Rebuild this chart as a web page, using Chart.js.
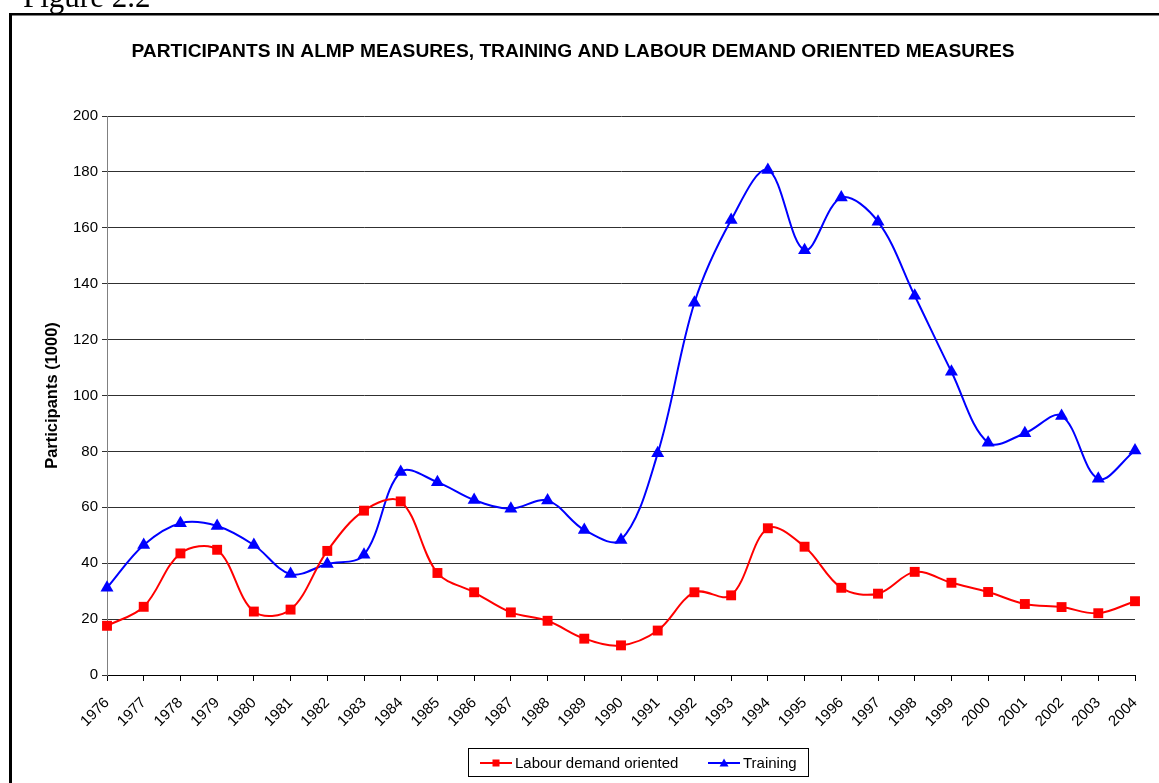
<!DOCTYPE html>
<html>
<head>
<meta charset="utf-8">
<script src="https://cdn.jsdelivr.net/npm/chart.js@4"></script>
<style>
  html, body { margin: 0; padding: 0; background: #fff; }
  #wrap { position: relative; width: 1159px; height: 783px; }
</style>
</head>
<body>
<div id="wrap"><canvas id="canvas" width="1159" height="783"></canvas></div>
<script>
// ---- data ----
var years = ['1976','1977','1978','1979','1980','1981','1982','1983','1984','1985',
  '1986','1987','1988','1989','1990','1991','1992','1993','1994','1995',
  '1996','1997','1998','1999','2000','2001','2002','2003','2004'];
var labourDemand = [17.6, 24.4, 43.5, 44.8, 22.7, 23.4, 44.4, 58.8, 62.1, 36.5,
  29.6, 22.4, 19.4, 13.0, 10.6, 15.9, 29.6, 28.5, 52.5, 45.9,
  31.2, 29.1, 36.9, 33.0, 29.7, 25.4, 24.3, 22.1, 26.4];
var training = [31.2, 46.5, 54.3, 53.3, 46.5, 36.1, 39.7, 43.0, 72.6, 69.0,
  62.6, 59.5, 62.4, 51.9, 48.3, 79.3, 133.2, 162.8, 180.7, 152.0,
  170.8, 162.2, 135.7, 108.5, 83.1, 86.5, 92.7, 70.2, 80.3];
var yTicks = [0, 20, 40, 60, 80, 100, 120, 140, 160, 180, 200];

var chartTitle = 'PARTICIPANTS IN ALMP MEASURES, TRAINING AND LABOUR DEMAND ORIENTED MEASURES';
var yTitle = 'Participants (1000)';
var seriesNames = ['Labour demand oriented', 'Training'];

var FONT = 'Arial, "Liberation Sans", sans-serif';

// frame, headings and the boxed legend (excel style)
var decor = {
  id: 'decor',
  afterDraw: function (chart) {
    var ctx = chart.ctx;
    var area = chart.chartArea;
    ctx.save();
    // figure caption, cut at the top
    ctx.fillStyle = '#000';
    ctx.font = '31px "Liberation Serif", "Times New Roman", serif';
    ctx.textBaseline = 'alphabetic';
    ctx.textAlign = 'left';
    ctx.fillText('Figure 2.2', 23, 7);
    // outer frame
    ctx.fillRect(9, 13, 1150, 2.5);
    ctx.fillRect(9, 13, 3, 770);
    // title
    ctx.font = 'bold 19.2px ' + FONT;
    ctx.textAlign = 'center';
    ctx.fillText(chartTitle, 573, 57);
    // y title
    ctx.save();
    ctx.translate(52, (area.top + area.bottom) / 2);
    ctx.rotate(-Math.PI / 2);
    ctx.font = 'bold 16.5px ' + FONT;
    ctx.textBaseline = 'middle';
    ctx.fillText(yTitle, 0, 0);
    ctx.restore();
    // legend
    ctx.lineWidth = 1;
    ctx.strokeStyle = '#000';
    ctx.strokeRect(468.5, 748.5, 340, 28);
    var ly = 763;
    var items = [
      { x: 480, tx: 515, color: '#FF0000', shape: 'rect', text: seriesNames[0] },
      { x: 708, tx: 743, color: '#0000FF', shape: 'tri', text: seriesNames[1] }
    ];
    ctx.font = '15px ' + FONT;
    ctx.textAlign = 'left';
    ctx.textBaseline = 'middle';
    items.forEach(function (it) {
      ctx.strokeStyle = it.color;
      ctx.fillStyle = it.color;
      ctx.lineWidth = 2;
      ctx.beginPath();
      ctx.moveTo(it.x, ly);
      ctx.lineTo(it.x + 32, ly);
      ctx.stroke();
      var cx = it.x + 16;
      if (it.shape == 'rect') {
        ctx.fillRect(cx - 3.5, ly - 3.5, 7, 7);
      } else {
        ctx.beginPath();
        ctx.moveTo(cx, ly - 4.5);
        ctx.lineTo(cx + 4.5, ly + 3.5);
        ctx.lineTo(cx - 4.5, ly + 3.5);
        ctx.closePath();
        ctx.fill();
      }
      ctx.fillStyle = '#000';
      ctx.fillText(it.text, it.tx, ly + 1);
    });
    ctx.restore();
  }
};

var ctx = document.getElementById('canvas').getContext('2d');
var myChart = new Chart(ctx, {
  type: 'line',
  data: {
    labels: years,
    datasets: [
      {
        label: seriesNames[0],
        data: labourDemand,
        borderColor: '#FF0000',
        backgroundColor: '#FF0000',
        borderWidth: 2,
        pointStyle: 'rect',
        pointRadius: 7,
        pointBorderWidth: 0,
        tension: 0.35,
        fill: false
      },
      {
        label: seriesNames[1],
        data: training,
        borderColor: '#0000FF',
        backgroundColor: '#0000FF',
        borderWidth: 2,
        pointStyle: 'triangle',
        pointRadius: 7.5,
        pointBorderWidth: 0,
        tension: 0.35,
        fill: false
      }
    ]
  },
  options: {
    responsive: false,
    animation: false,
    layout: { padding: { top: 116, right: 24, left: 0, bottom: 0 } },
    plugins: {
      legend: { display: false },
      title: { display: false },
      tooltip: { enabled: false }
    },
    scales: {
      x: {
        offset: false,
        grid: { drawOnChartArea: false, color: '#000', tickLength: 6 },
        border: { color: '#000', width: 1 },
        ticks: {
          color: '#000',
          font: { family: FONT, size: 15 },
          minRotation: 45,
          maxRotation: 45,
          autoSkip: false,
          padding: 13
        },
        afterFit: function (s) {
          s.height = 108;
          s.paddingRight = 0;  // keep the plot right edge at 1135
        }
      },
      y: {
        min: 0,
        max: 200,
        afterBuildTicks: function (s) {
          s.ticks = yTicks.map(function (v) { return { value: v }; });
        },
        grid: { color: '#303030', tickLength: 5 },
        border: { color: '#808080', width: 1 },
        ticks: {
          color: '#000',
          font: { family: FONT, size: 15 },
          padding: 4
        },
        afterFit: function (s) { s.width = 107; }
      }
    }
  },
  plugins: [decor]
});
</script>
</body>
</html>
